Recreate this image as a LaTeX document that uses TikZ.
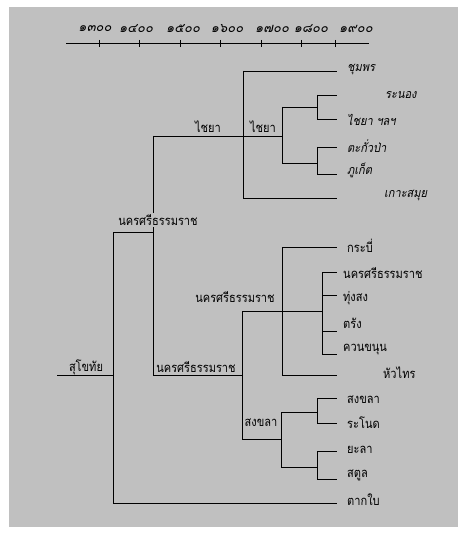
\documentclass[tikz,border=0pt]{standalone}
\usepackage{fontspec}
\setmainfont{Loma}[Script=Thai]
\newfontfamily\thup{Loma}[Script=Thai,FakeStretch=0.85]
\newfontfamily\thit{Loma}[Script=Thai,FakeSlant=0.2,FakeStretch=0.88]
\newfontfamily\thyr{Loma}[Script=Thai,FakeSlant=0.2]
\definecolor{bggray}{HTML}{C0C0C0}
\begin{document}
\begin{tikzpicture}[x=1pt,y=-1pt,
  ln/.style={draw=black,line width=0.9pt},
  lbl/.style={inner sep=0pt,font=\fontsize{13}{15}\selectfont\thup,anchor=west},
  lbli/.style={inner sep=0pt,font=\fontsize{12.5}{15}\selectfont\thit,anchor=west},
  mid/.style={inner sep=0pt,font=\fontsize{13}{15}\selectfont\thup},
  yr/.style={inner sep=0pt,font=\fontsize{13}{15}\selectfont\thyr}]
\useasboundingbox (0,0) rectangle (464,534);
\fill[white] (0,0) rectangle (464,534);
\fill[bggray] (9,7) rectangle (458,527);
% timeline
\coordinate (tl) at (66,43); \coordinate (tr) at (369,43);
\draw[ln] (tl) -- (tr);
\foreach \x in {99,139,180,220,261,301,335} \draw[ln] (\x,40) -- (\x,47);
\node[yr] (y13) at (95,29) {๑๓๐๐};
\node[yr] (y14) at (136,29) {๑๔๐๐};
\node[yr] (y15) at (183,29) {๑๕๐๐};
\node[yr] (y16) at (227,29) {๑๖๐๐};
\node[yr] (y17) at (272,29) {๑๗๐๐};
\node[yr] (y18) at (311,29) {๑๘๐๐};
\node[yr] (y19) at (356,29) {๑๙๐๐};
% junction coordinates
\coordinate (r0) at (57,375); \coordinate (a) at (113,375);
\coordinate (at) at (113,232); \coordinate (ab) at (113,503);
\coordinate (b) at (153,232); \coordinate (bt) at (153,136); \coordinate (bb) at (153,375);
\coordinate (c) at (243,136); \coordinate (ct) at (243,71); \coordinate (cb) at (243,198);
\coordinate (d) at (282,136); \coordinate (dt) at (282,107); \coordinate (db) at (282,163);
\coordinate (e1t) at (317,95); \coordinate (e1) at (317,107); \coordinate (e1b) at (317,119);
\coordinate (e2t) at (317,147); \coordinate (e2) at (317,163); \coordinate (e2b) at (317,174);
\coordinate (f) at (242,375); \coordinate (ft) at (242,311); \coordinate (fb) at (242,439);
\coordinate (g) at (282,311); \coordinate (gt) at (282,247); \coordinate (gb) at (282,375);
\coordinate (h) at (322,311); \coordinate (ht) at (322,272); \coordinate (hb) at (322,354);
\coordinate (h2) at (322,295); \coordinate (h3) at (322,331);
\coordinate (i) at (281,439); \coordinate (it) at (281,412); \coordinate (ib) at (281,467);
\coordinate (k1) at (317,412); \coordinate (k1t) at (317,398); \coordinate (k1b) at (317,423);
\coordinate (k2) at (317,467); \coordinate (k2t) at (317,451); \coordinate (k2b) at (317,479);
% leaf ends
\foreach \n/\y in {l1/71,l2/95,l3/119,l4/147,l5/174,l6/198,m1/247,m2/272,m3/295,m4/331,m5/354,m6/375,n1/398,n2/423,n3/451,n4/479,n5/503}
  \coordinate (\n) at (337,\y);
% lines
\draw[ln] (r0) -- (a);
\draw[ln] (at) -- (ab);
\draw[ln] (at) -- (b);
\draw[ln] (bt) -- (bb);
\draw[ln] (ab) -- (n5);
\draw[ln] (bt) -- (d);
\draw[ln] (ct) -- (cb);
\draw[ln] (ct) -- (l1);
\draw[ln] (cb) -- (l6);
\draw[ln] (dt) -- (db);
\draw[ln] (dt) -- (e1); \draw[ln] (e1t) -- (e1b); \draw[ln] (e1t) -- (l2); \draw[ln] (e1b) -- (l3);
\draw[ln] (db) -- (e2); \draw[ln] (e2t) -- (e2b); \draw[ln] (e2t) -- (l4); \draw[ln] (e2b) -- (l5);
\draw[ln] (bb) -- (f);
\draw[ln] (ft) -- (fb);
\draw[ln] (ft) -- (h);
\draw[ln] (gt) -- (gb); \draw[ln] (gt) -- (m1); \draw[ln] (gb) -- (m6);
\draw[ln] (ht) -- (hb);
\draw[ln] (ht) -- (m2); \draw[ln] (h2) -- (m3); \draw[ln] (h3) -- (m4); \draw[ln] (hb) -- (m5);
\draw[ln] (fb) -- (i);
\draw[ln] (it) -- (ib);
\draw[ln] (it) -- (k1); \draw[ln] (k1t) -- (k1b); \draw[ln] (k1t) -- (n1); \draw[ln] (k1b) -- (n2);
\draw[ln] (ib) -- (k2); \draw[ln] (k2t) -- (k2b); \draw[ln] (k2t) -- (n3); \draw[ln] (k2b) -- (n4);
% inner labels
\node[mid] (sukho) at (86,367) {สุโขทัย};
\node[mid,fill=bggray,inner sep=1pt] (nk1) at (158,220) {นครศรีธรรมราช};
\node[mid] (chaiya1) at (208,127) {ไชยา};
\node[mid] (chaiya2) at (263,127) {ไชยา};
\node[mid] (nk2) at (235,297) {นครศรีธรรมราช};
\node[mid] (nk3) at (196,367) {นครศรีธรรมราช};
\node[mid] (songkhla1) at (261,423) {สงขลา};
% leaf labels
\node[lbli] (t1) at (347,70) {ชุมพร};
\node[lbli] (t2) at (385,95) {ระนอง};
\node[lbli] (t3) at (347,120) {ไชยา ฯลฯ};
\node[lbli] (t4) at (347,146) {ตะกั่วป่า};
\node[lbli] (t5) at (347,170) {ภูเก็ต};
\node[lbli] (t6) at (384,195) {เกาะสมุย};
\node[lbl] (u1) at (347,246) {กระบี่};
\node[lbl] (u2) at (343,273) {นครศรีธรรมราช};
\node[lbl] (u3) at (343,298) {ทุ่งสง};
\node[lbl] (u4) at (343,323) {ตรัง};
\node[lbl] (u5) at (343,350) {ควนขนุน};
\node[lbl] (u6) at (383,373) {หัวไทร};
\node[lbl] (v1) at (347,400) {สงขลา};
\node[lbl] (v2) at (347,423) {ระโนด};
\node[lbl] (v3) at (347,450) {ยะลา};
\node[lbl] (v4) at (347,475) {สตูล};
\node[lbl] (v5) at (347,500) {ตากใบ};
\end{tikzpicture}
\end{document}
